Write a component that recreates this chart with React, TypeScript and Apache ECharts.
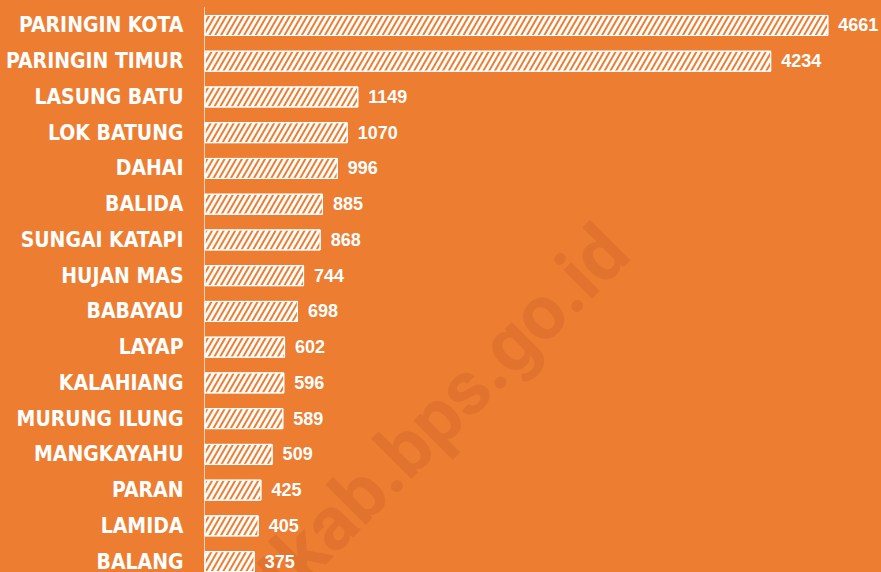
import React, { useEffect, useRef } from "react";
import * as echarts from "echarts";

const categories = [
  "PARINGIN KOTA",
  "PARINGIN TIMUR",
  "LASUNG BATU",
  "LOK BATUNG",
  "DAHAI",
  "BALIDA",
  "SUNGAI KATAPI",
  "HUJAN MAS",
  "BABAYAU",
  "LAYAP",
  "KALAHIANG",
  "MURUNG ILUNG",
  "MANGKAYAHU",
  "PARAN",
  "LAMIDA",
  "BALANG",
];
const values = [4661, 4234, 1149, 1070, 996, 885, 868, 744, 698, 602, 596, 589, 509, 425, 405, 375];
const watermarkText = "hstkab.bps.go.id";

const BG = "#ED7D31";
const LABEL_FONT = "'DejaVu Sans Condensed', 'DejaVu Sans', sans-serif";
const VALUE_FONT = "'Liberation Sans', Arial, sans-serif";

export default function App() {
  const ref = useRef<HTMLDivElement>(null);
  useEffect(() => {
    document.body.style.margin = "0";
    const chart = echarts.init(ref.current!, undefined, { renderer: "svg" });
    const F = 76;
    const rot = Math.PI / 4;
    const ax = 634 - Math.sin(rot) * 0.35 * F;
    const ay = 258 - Math.cos(rot) * 0.35 * F;
    chart.setOption({
      animation: false,
      backgroundColor: BG,
      grid: {
        left: 204.5,
        right: 7.3,
        top: 7.6,
        bottom: -7.5,
        containLabel: false,
        outerBoundsMode: "none",
      },
      xAxis: {
        type: "value",
        min: 0,
        max: 5000,
        show: false,
      },
      yAxis: {
        type: "category",
        data: categories,
        inverse: true,
        axisLine: { show: true, lineStyle: { color: "rgba(255,235,220,0.75)", width: 1 } },
        axisTick: { show: false },
        axisLabel: {
          color: "#fff",
          fontFamily: LABEL_FONT,
          fontWeight: "bold",
          fontSize: 21,
          margin: 21,
        },
      },
      graphic: [
        {
          type: "text",
          x: ax,
          y: ay,
          rotation: rot,
          z: -10,
          silent: true,
          style: {
            text: watermarkText,
            fill: "rgba(160,70,30,0.16)",
            font: `bold ${F}px Roboto, 'Noto Sans', sans-serif`,
            align: "right",
            verticalAlign: "middle",
          },
        },
      ],
      series: [
        {
          type: "bar",
          data: values,
          barWidth: 21,
          itemStyle: {
            color: BG,
            borderColor: "#fff",
            borderWidth: 1,
            decal: {
              symbol: "rect",
              symbolSize: 1,
              color: "#fff",
              dashArrayX: [1, 0],
              dashArrayY: [3, 2],
              rotation: -Math.PI / 3,
            },
          },
          label: {
            show: true,
            position: "right",
            distance: 10,
            color: "#fff",
            fontFamily: VALUE_FONT,
            fontWeight: "bold",
            fontSize: 18,
          },
          z: 5,
        },
      ],
    });
    return () => chart.dispose();
  }, []);
  return <div ref={ref} style={{ width: 881, height: 572 }} />;
}
